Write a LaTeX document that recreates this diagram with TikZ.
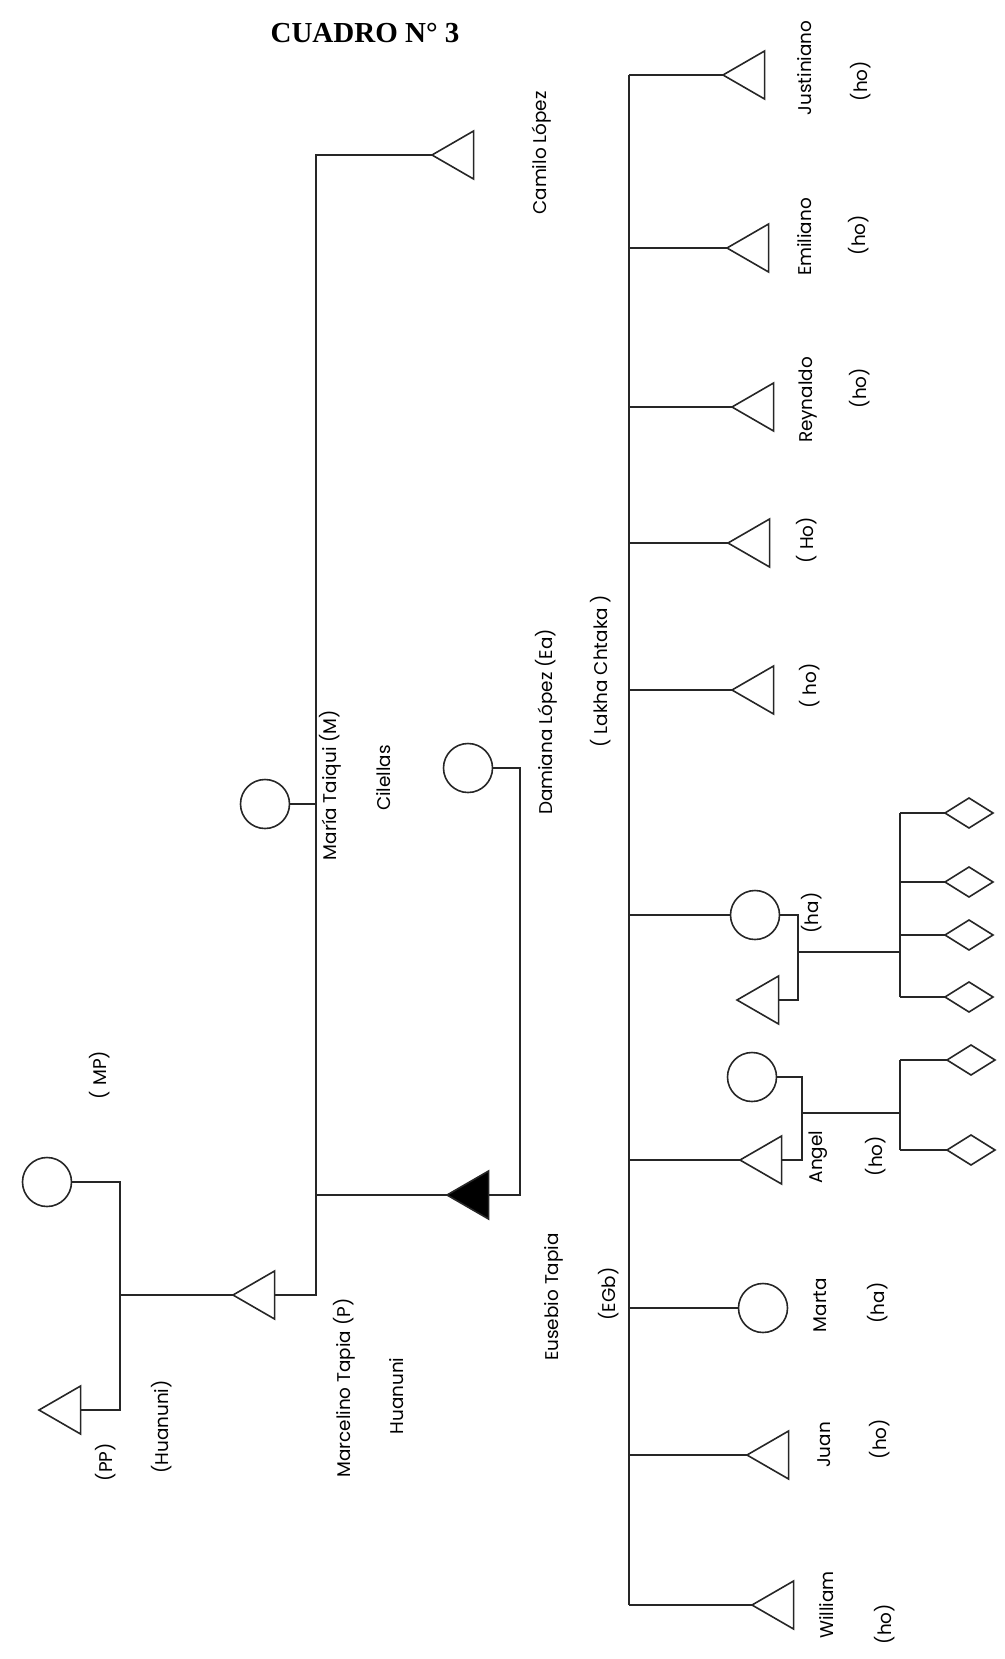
\documentclass[tikz,border=0pt]{standalone}
\usepackage{fontspec}
\setmainfont{Liberation Serif}
\newfontfamily\kinfont{Poppins}
\usetikzlibrary{shapes.geometric}

\begin{document}
\begin{tikzpicture}[
    x=0.5pt, y=-0.5pt,
    line width=0.8pt, draw=black!85,
    male/.style={
      draw,
      regular polygon,
      regular polygon sides=3,
      shape border rotate=90,
      minimum size=27.7pt,
      inner sep=0pt,
      outer sep=0pt,
      anchor=west
    },
    ego/.style={male, fill=black},
    female/.style={draw, circle, minimum size=24.5pt, inner sep=0pt, outer sep=0pt},
    offspring/.style={
      draw,
      diamond,
      minimum width=24pt,
      minimum height=15pt,
      inner sep=0pt,
      outer sep=0pt,
      anchor=west
    },
    lbl/.style={rotate=90, font=\kinfont\fontsize{9.2}{11}\selectfont, inner sep=0pt},
    bar/.style={line width=1.3pt}
  ]
    \useasboundingbox (0,0) rectangle (1005,1659);

    \node[font=\bfseries\fontsize{14.5}{16}\selectfont] (title) at (365,33) {CUADRO N° 3};

    \node[female] (mp) at (47,1182) {};
    \node[male] (pp) at (39,1410) {};
    \node[male] (camilo) at (432,155) {};
    \node[female] (maria) at (265,804) {};
    \node[male] (marcelino) at (233,1295) {};
    \node[female] (damiana) at (468,768) {};
    \node[ego] (eusebio) at (447,1195) {};

    \node[male] (justiniano) at (723,75) {};
    \node[male] (emiliano) at (727,248) {};
    \node[male] (reynaldo) at (732,407) {};
    \node[male] (hijo4) at (728,543) {};
    \node[male] (hijo5) at (732,690) {};
    \node[female] (hija) at (755,915) {};
    \node[male] (yerno) at (737,1000) {};
    \node[female] (nuera) at (752,1077) {};
    \node[male] (angel) at (740,1160) {};
    \node[female] (marta) at (763,1308) {};
    \node[male] (juan) at (747,1455) {};
    \node[male] (william) at (752,1605) {};

    \foreach \y [count=\i] in {813,882,935,997}
      \node[offspring] (nieto\i) at (945,\y) {};
    \node[offspring] (nieto5) at (947,1060) {};
    \node[offspring] (nieto6) at (947,1150) {};

    \coordinate (gline) at (120,1182);
    \coordinate (mline) at (316,158);
    \coordinate (dline) at (520,768);
    \coordinate (bartop) at (629,75);
    \coordinate (barbot) at (629,1605);
    \coordinate (hline) at (798,915);
    \coordinate (hkids) at (900,952);
    \coordinate (aline) at (802,1076);
    \coordinate (akids) at (900,1113);

    \draw (mp.east) -- (mp.east -| gline) -- (pp.east -| gline) -- (pp.east);
    \draw (marcelino.west) -- (marcelino.west -| gline);
    \draw (camilo.west) -- (camilo.west -| mline)
      -- (marcelino.east -| mline) -- (marcelino.east);
    \draw (maria.east) -- (maria.east -| mline);
    \draw (eusebio.west) -- (eusebio.west -| mline);
    \draw (damiana.east) -- (damiana.east -| dline)
      -- (eusebio.east -| dline) -- (eusebio.east);

    \draw[bar] (bartop) -- (barbot);
    \foreach \n in {justiniano,emiliano,reynaldo,hijo4,hijo5,hija,angel,marta,juan,william}
      \draw (\n.west) -- (\n.west -| bartop);

    \draw (hija.east) -- (hija.east -| hline) -- (yerno.east -| hline) -- (yerno.east);
    \draw (hkids -| hline) -- (hkids);
    \draw (nieto1.west -| hkids) -- (nieto4.west -| hkids);
    \foreach \i in {1,...,4}
      \draw (nieto\i.west) -- (nieto\i.west -| hkids);

    \draw (nuera.east) -- (nuera.east -| aline) -- (angel.east -| aline) -- (angel.east);
    \draw (akids -| aline) -- (akids);
    \draw (nieto5.west -| akids) -- (nieto6.west -| akids);
    \foreach \i in {5,6}
      \draw (nieto\i.west) -- (nieto\i.west -| akids);

    \node[lbl] (lmp) at (100,1075) {( MP)};
    \node[lbl] (lpp) at (106,1462) {(PP)};
    \node[lbl] (lhuanuni1) at (162,1427) {(Huanuni)};
    \node[lbl] (lmarcelino) at (344,1388) {Marcelino Tapia (P)};
    \node[lbl] (lhuanuni2) at (397,1396) {Huanuni};
    \node[lbl] (lmaria) at (330,785) {María Taiqui (M)};
    \node[lbl] (lcilellas) at (384,778) {Cilellas};
    \node[lbl] (lcamilo) at (542,153) {Camilo López};
    \node[lbl] (ldamiana) at (546,722) {Damiana López (Ea)};
    \node[lbl] (llakha) at (601,671) {( Lakha Chtaka )};
    \node[lbl] (leusebio) at (554,1297) {Eusebio Tapia};
    \node[lbl] (lego) at (609,1294) {(EGb)};

    \node[lbl] (ljustiniano) at (805,68) {Justiniano};
    \node[lbl] at (861,81) {(ho)};
    \node[lbl] (lemiliano) at (805,237) {Emiliano};
    \node[lbl] at (859,235) {(ho)};
    \node[lbl] (lreynaldo) at (808,400) {Reynaldo};
    \node[lbl] at (860,388) {(ho)};
    \node[lbl] (lhijo4) at (807,540) {( Ho)};
    \node[lbl] (lhijo5) at (810,686) {( ho)};
    \node[lbl] (lhija) at (812,913) {(ha)};
    \node[lbl] (langel) at (818,1157) {Angel};
    \node[lbl] at (876,1156) {(ho)};
    \node[lbl] (lmarta) at (820,1305) {Marta};
    \node[lbl] at (878,1303) {(ha)};
    \node[lbl] (ljuan) at (824,1445) {Juan};
    \node[lbl] at (880,1439) {(ho)};
    \node[lbl] (lwilliam) at (827,1605) {William};
    \node[lbl] at (885,1624) {(ho)};
  \end{tikzpicture}
\end{document}
